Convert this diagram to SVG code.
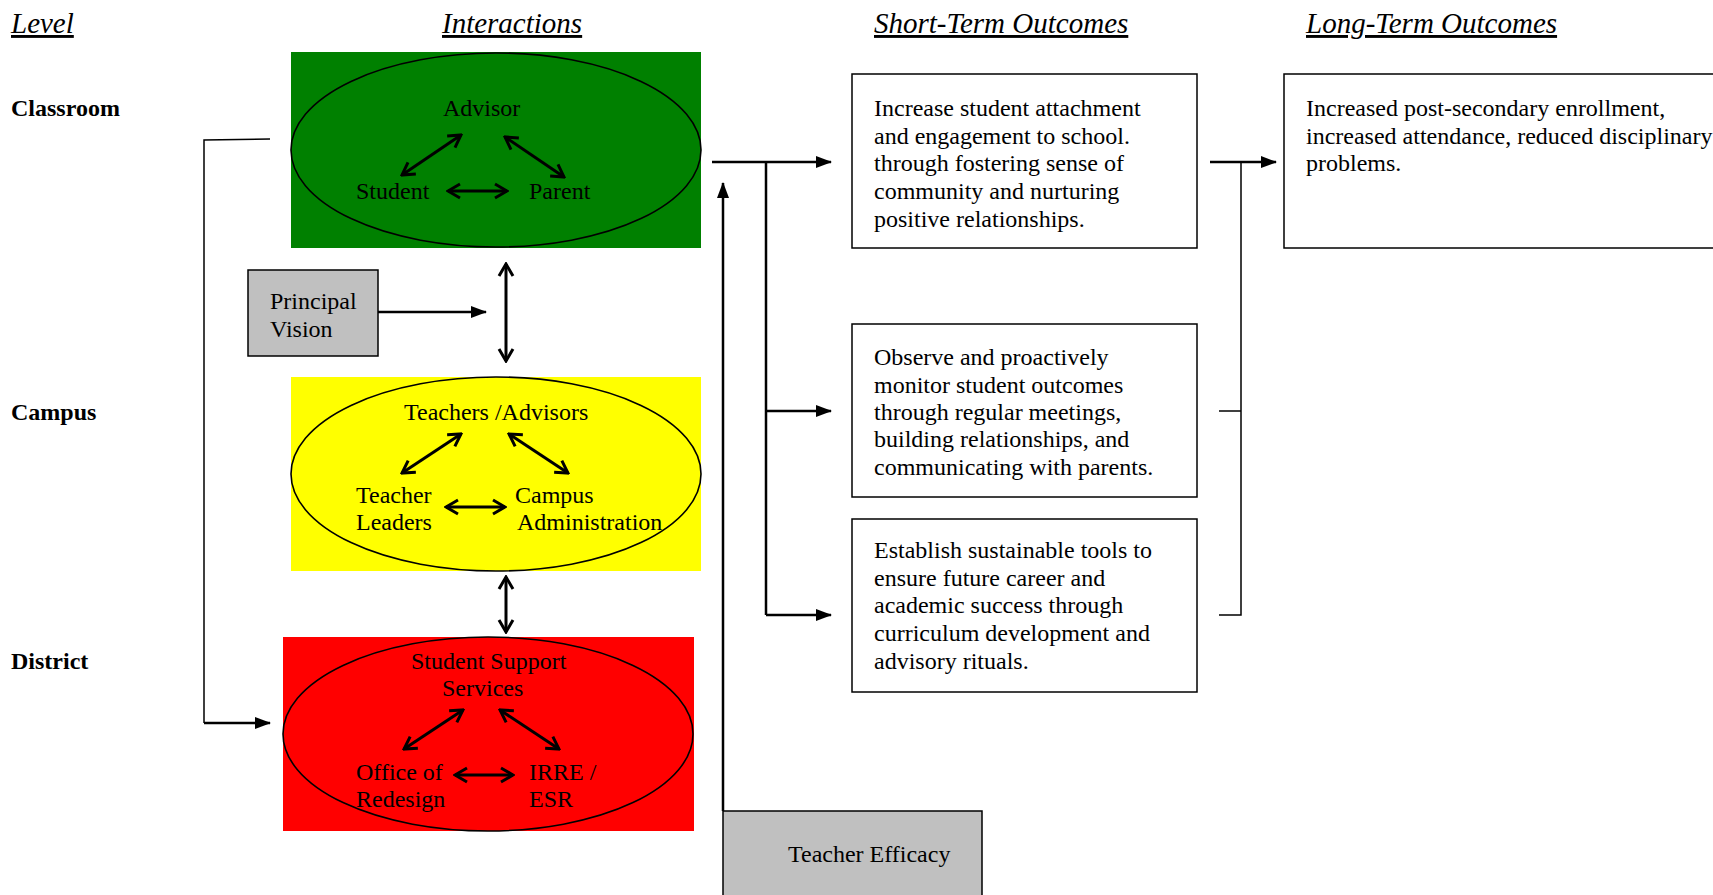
<svg xmlns="http://www.w3.org/2000/svg" width="1713" height="895" viewBox="0 0 1713 895">
<style>
.t{font-family:"Liberation Serif","Times New Roman",serif;font-size:24px;fill:#000}
.h{font-family:"Liberation Serif","Times New Roman",serif;font-size:29px;font-style:italic;text-decoration:underline;fill:#000}
.b{font-family:"Liberation Serif","Times New Roman",serif;font-size:24px;font-weight:bold;fill:#000}
.box{fill:#fff;stroke:#000;stroke-width:1.5}
.gray{fill:#c0c0c0;stroke:#000;stroke-width:1.5}
.ell{stroke:#000;stroke-width:1.6}
.dbl{stroke:#000;stroke-width:3;fill:none;marker-start:url(#op);marker-end:url(#op)}
.fa{stroke:#000;stroke-width:2.5;fill:none;marker-end:url(#fa)}
.ln{stroke:#000;stroke-width:2.5;fill:none}
.thin{stroke:#000;stroke-width:1.5;fill:none}
</style>
<defs>
<marker id="op" viewBox="0 0 16 18" refX="14" refY="9" markerWidth="16" markerHeight="18" markerUnits="userSpaceOnUse" orient="auto-start-reverse">
<path d="M2,2 L14,9 L2,16" fill="none" stroke="#000" stroke-width="3"/>
</marker>
<marker id="fa" viewBox="0 0 16 14" refX="15" refY="7" markerWidth="16" markerHeight="14" markerUnits="userSpaceOnUse" orient="auto">
<path d="M0,1 L16,7 L0,13 Z" fill="#000"/>
</marker>
</defs>

<g id="headers">
<text class="h" x="11" y="33">Level</text>
<text class="h" x="442" y="33">Interactions</text>
<text class="h" x="874" y="33">Short-Term Outcomes</text>
<text class="h" x="1306" y="33">Long-Term Outcomes</text>
<text class="b" x="11" y="116">Classroom</text>
<text class="b" x="11" y="420">Campus</text>
<text class="b" x="11" y="669">District</text>
</g>

<g id="classroom">
<rect x="291" y="52" width="410" height="196" fill="#008000"/>
<ellipse class="ell" cx="496" cy="150" rx="205" ry="97" fill="#008000"/>
<text class="t" x="443" y="116">Advisor</text>
<text class="t" x="356" y="199">Student</text>
<text class="t" x="529" y="199">Parent</text>
<line class="dbl" x1="402" y1="175" x2="461" y2="135"/>
<line class="dbl" x1="505" y1="137" x2="564" y2="177"/>
<line class="dbl" x1="448" y1="191" x2="507" y2="191"/>
</g>

<g id="principal">
<rect class="gray" x="248" y="270" width="130" height="86"/>
<text class="t" x="270" y="309">Principal</text>
<text class="t" x="270" y="337">Vision</text>
</g>

<g id="campus">
<rect x="291" y="377" width="410" height="194" fill="#ffff00"/>
<ellipse class="ell" cx="496" cy="474" rx="205" ry="97" fill="#ffff00"/>
<text class="t" x="404" y="420">Teachers /Advisors</text>
<text class="t" x="356" y="503">Teacher</text>
<text class="t" x="356" y="530">Leaders</text>
<text class="t" x="515" y="503">Campus</text>
<text class="t" x="517" y="530">Administration</text>
<line class="dbl" x1="402" y1="473" x2="461" y2="434"/>
<line class="dbl" x1="509" y1="434" x2="568" y2="473"/>
<line class="dbl" x1="446" y1="507" x2="505" y2="507"/>
</g>

<g id="district">
<rect x="283" y="637" width="411" height="194" fill="#ff0000"/>
<ellipse class="ell" cx="488" cy="734" rx="205" ry="97" fill="#ff0000"/>
<text class="t" x="411" y="669">Student Support</text>
<text class="t" x="442" y="696">Services</text>
<text class="t" x="356" y="780">Office of</text>
<text class="t" x="356" y="807">Redesign</text>
<text class="t" x="529" y="780">IRRE /</text>
<text class="t" x="529" y="807">ESR</text>
<line class="dbl" x1="404" y1="749" x2="463" y2="710"/>
<line class="dbl" x1="500" y1="710" x2="559" y2="749"/>
<line class="dbl" x1="455" y1="775" x2="513" y2="775"/>
</g>

<g id="efficacy">
<rect class="gray" x="723" y="811" width="259" height="100"/>
<text class="t" x="788" y="862">Teacher Efficacy</text>
</g>

<g id="st1">
<rect class="box" x="852" y="74" width="345" height="174"/>
<text class="t" x="874" y="116">Increase student attachment</text>
<text class="t" x="874" y="144">and engagement to school.</text>
<text class="t" x="874" y="171">through fostering sense of</text>
<text class="t" x="874" y="199">community and nurturing</text>
<text class="t" x="874" y="227">positive relationships.</text>
</g>

<g id="st2">
<rect class="box" x="852" y="324" width="345" height="173"/>
<text class="t" x="874" y="365">Observe and proactively</text>
<text class="t" x="874" y="393">monitor student outcomes</text>
<text class="t" x="874" y="420">through regular meetings,</text>
<text class="t" x="874" y="447">building relationships, and</text>
<text class="t" x="874" y="475">communicating with parents.</text>
</g>

<g id="st3">
<rect class="box" x="852" y="519" width="345" height="173"/>
<text class="t" x="874" y="558">Establish sustainable tools to</text>
<text class="t" x="874" y="586">ensure future career and</text>
<text class="t" x="874" y="613">academic success through</text>
<text class="t" x="874" y="641">curriculum development and</text>
<text class="t" x="874" y="669">advisory rituals.</text>
</g>

<g id="lt1">
<rect class="box" x="1284" y="74" width="440" height="174"/>
<text class="t" x="1306" y="116">Increased post-secondary enrollment,</text>
<text class="t" x="1306" y="144">increased attendance, reduced disciplinary</text>
<text class="t" x="1306" y="171">problems.</text>
</g>

<g id="connectors">
<polyline class="thin" points="270,139 204,140 204,723"/>
<line class="fa" x1="204" y1="723" x2="270" y2="723"/>
<line class="fa" x1="378" y1="312" x2="486" y2="312"/>
<line class="dbl" x1="506" y1="264" x2="506" y2="361"/>
<line class="dbl" x1="506" y1="577" x2="506" y2="632"/>
<line class="fa" x1="723" y1="811" x2="723" y2="183"/>
<line class="fa" x1="712" y1="162" x2="831" y2="162"/>
<line class="ln" x1="766" y1="162" x2="766" y2="615"/>
<line class="fa" x1="766" y1="411" x2="831" y2="411"/>
<line class="fa" x1="766" y1="615" x2="831" y2="615"/>
<line class="fa" x1="1210" y1="162" x2="1276" y2="162"/>
<polyline class="thin" points="1219,411 1241,411"/>
<polyline class="thin" points="1241,162 1241,615 1219,615"/>
</g>
</svg>
